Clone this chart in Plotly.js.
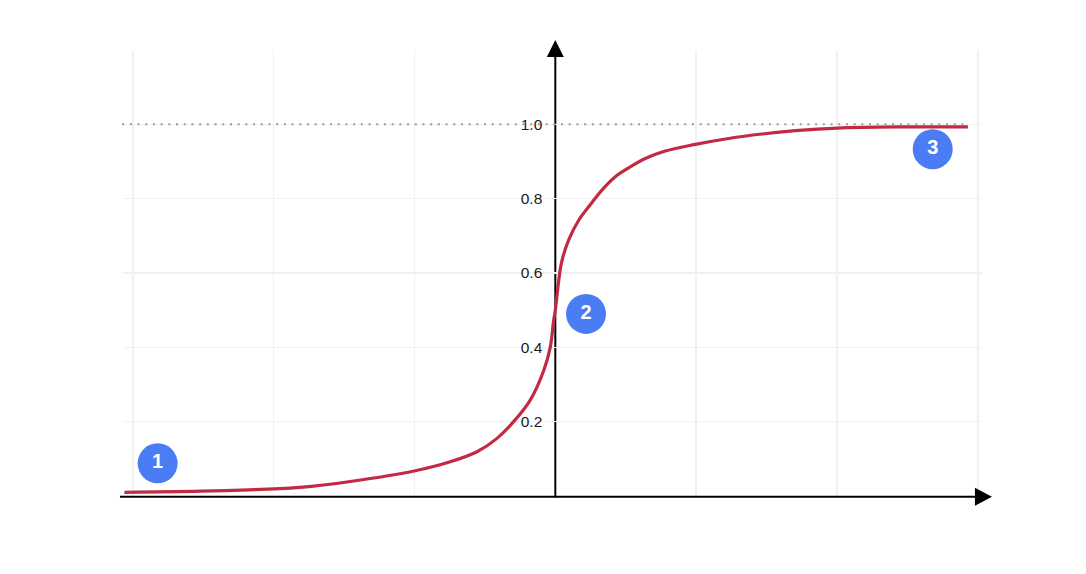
<!DOCTYPE html>
<html>
<head>
<meta charset="utf-8">
<script src="https://cdn.plot.ly/plotly-3.0.1.min.js"></script>
<style>
  html, body { margin: 0; padding: 0; background: #fff; }
  #chart { width: 1086px; height: 574px; }
</style>
</head>
<body>
<div id="chart"></div>
<script>
  // curve
  const curveX = [-3.06, -2.52, -2.0, -1.811, -1.456, -0.994, -0.746, -0.556, -0.414, -0.296, -0.178, -0.083,
    -0.036, -0.012, 0, 0.043, 0.095, 0.166, 0.237, 0.331, 0.426, 0.521, 0.639, 0.781, 0.994, 1.231, 1.468,
    1.705, 2.004, 2.452, 2.93];
  const curveY = [0.010, 0.013, 0.019, 0.023, 0.039, 0.068, 0.092, 0.119, 0.155, 0.200, 0.258, 0.337,
    0.400, 0.472, 0.500, 0.626, 0.689, 0.742, 0.778, 0.823, 0.859, 0.883, 0.908, 0.928, 0.946, 0.962, 0.974,
    0.983, 0.990, 0.993, 0.993];

  // numbered markers
  const badgeX = [-2.824, 0.218, 2.68];
  const badgeY = [0.088, 0.490, 0.933];
  const badgeLabels = ['1', '2', '3'];

  const xGridVals = [-3, -2, -1, 1, 2, 3];
  const yTickVals = [0, 0.2, 0.4, 0.6, 0.8, 1.0, 1.2];
  const yTickText = ['', '0.2', '0.4', '0.6', '0.8', '1.0', ''];
  const refLevel = 1.0;

  const C = { curve: '#c22a42', badge: '#4a7cf3', grid: '#f1f1f1', axis: '#000', dots: '#9a9a9a', text: '#1a1a1a' };
  const FONT = '"Helvetica Neue", Helvetica, "Liberation Sans", Arial, sans-serif';

  const traces = [
    {
      x: curveX, y: curveY, mode: 'lines', type: 'scatter',
      line: { color: C.curve, width: 3.2, shape: 'spline', smoothing: 1 },
      hoverinfo: 'skip',
    },
    {
      x: badgeX, y: badgeY, mode: 'markers+text', type: 'scatter',
      marker: { size: 40, color: C.badge, line: { width: 0 } },
      text: badgeLabels, textposition: 'middle center',
      textfont: { family: FONT, size: 20, color: '#fff', weight: 'bold' },
      cliponaxis: false, hoverinfo: 'skip',
    },
  ];

  const layout = {
    width: 1086, height: 574,
    margin: { l: 123, r: 104, t: 50, b: 78 },
    paper_bgcolor: '#fff', plot_bgcolor: '#fff',
    showlegend: false,
    font: { family: FONT, color: C.text },
    xaxis: {
      range: [-3.07, 3.03], tickvals: xGridVals,
      showgrid: true, gridcolor: C.grid, gridwidth: 1.5,
      zeroline: false, showline: false, showticklabels: false, ticks: '',
    },
    yaxis: {
      range: [0, 1.2], tickvals: yTickVals, ticktext: yTickText,
      showgrid: true, gridcolor: C.grid, gridwidth: 1.5,
      zeroline: false, showline: false, ticks: '',
      anchor: 'free', position: 3.07 / 6.1, side: 'left',
      ticklabelstandoff: 13, layer: 'below traces',
      tickfont: { family: FONT, size: 15.5, color: C.text },
    },
    shapes: [
      // reference level
      { type: 'line', xref: 'paper', yref: 'y', x0: -0.001, x1: 0.9825, y0: refLevel, y1: refLevel,
        line: { color: C.dots, width: 2, dash: '2px,5.7px' }, layer: 'above' },
      // x axis with arrow
      { type: 'line', xref: 'paper', yref: 'paper', x0: -0.0035, x1: 0.993, y0: -0.0016, y1: -0.0016,
        line: { color: C.axis, width: 2 }, layer: 'above' },
      { type: 'path', xref: 'paper', yref: 'paper',
        path: 'M 0.9918 0.0186 L 1.0116 -0.0016 L 0.9918 -0.0218 Z',
        fillcolor: C.axis, line: { width: 0 }, layer: 'above' },
      // y axis with arrow
      { type: 'line', xref: 'x', yref: 'paper', x0: 0, x1: 0, y0: -0.0035, y1: 0.987,
        line: { color: C.axis, width: 2 }, layer: 'between' },
      { type: 'path', xref: 'x', yref: 'paper',
        path: 'M -0.0604 0.9843 L 0.0604 0.9843 L 0 1.0224 Z',
        fillcolor: C.axis, line: { width: 0 }, layer: 'between' },
    ],
  };

  Plotly.newPlot('chart', traces, layout, { staticPlot: true, displayModeBar: false });
</script>
</body>
</html>
